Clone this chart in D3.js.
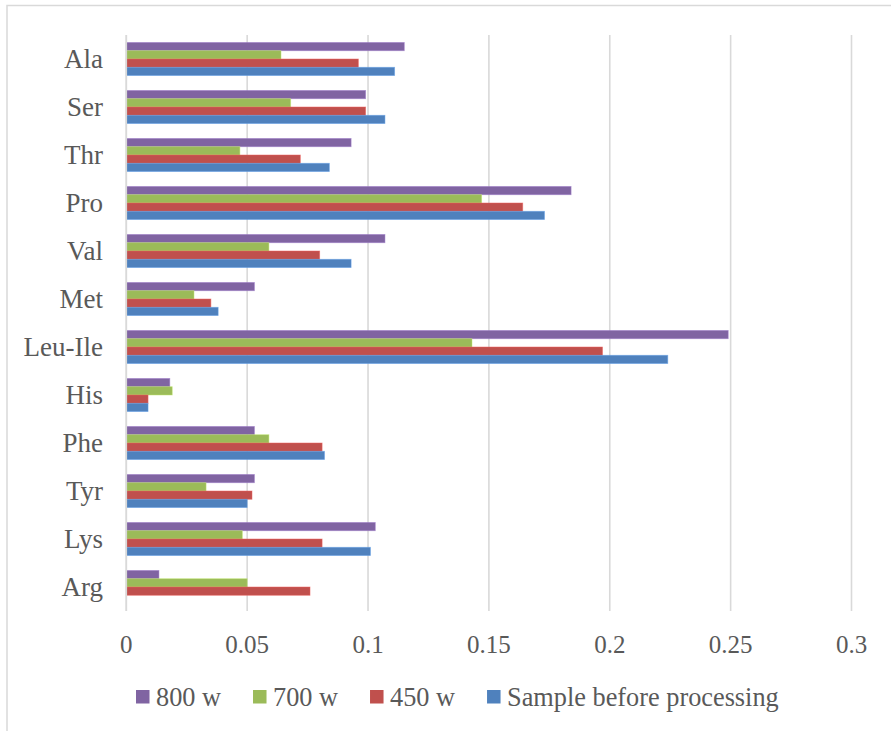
<!DOCTYPE html>
<html>
<head>
<meta charset="utf-8">
<script src="https://cdn.jsdelivr.net/npm/d3@7/dist/d3.min.js"></script>
<style>
  html, body { margin: 0; padding: 0; background: #fff; }
  svg { display: block; }
  text { font-family: "Liberation Serif", "Times New Roman", serif; fill: #595959; }
</style>
</head>
<body>
<svg id="chart" width="891" height="731"></svg>
<script>
// Amino acids, top to bottom
const categories = ["Ala", "Ser", "Thr", "Pro", "Val", "Met", "Leu-Ile", "His", "Phe", "Tyr", "Lys", "Arg"];

// Series, in the order drawn inside each group (top to bottom)
const seriesNames = ["800 w", "700 w", "450 w", "Sample before processing"];
const seriesColors = ["#8064A2", "#9BBB59", "#C0504D", "#4F81BD"];

const w800   = [0.115, 0.099, 0.093, 0.184, 0.107, 0.053, 0.249, 0.018, 0.053, 0.053, 0.103, 0.0135];
const w700   = [0.064, 0.068, 0.047, 0.147, 0.059, 0.028, 0.143, 0.019, 0.059, 0.033, 0.048, 0.050];
const w450   = [0.096, 0.099, 0.072, 0.164, 0.080, 0.035, 0.197, 0.009, 0.081, 0.052, 0.081, 0.076];
const sample = [0.111, 0.107, 0.084, 0.173, 0.093, 0.038, 0.224, 0.009, 0.082, 0.050, 0.101, 0];

const seriesValues = [w800, w700, w450, sample];
const xTicks = [0, 0.05, 0.1, 0.15, 0.2, 0.25, 0.3];
const xTickLabels = ["0", "0.05", "0.1", "0.15", "0.2", "0.25", "0.3"];

const svg = d3.select("#chart");

// Chart frame
svg.append("rect")
  .attr("x", 7).attr("y", 5.5)
  .attr("width", 920).attr("height", 760)
  .attr("fill", "none")
  .attr("stroke", "#d9d9d9")
  .attr("stroke-width", 1.5);

const plot = { left: 126.3, right: 851.5, top: 35, bottom: 611 };

const x = d3.scaleLinear().domain([0, 0.3]).range([plot.left, plot.right]);
const y = d3.scaleBand().domain(categories).range([plot.top, plot.bottom])
  .paddingInner(0.31).paddingOuter(0.155);
const ySub = d3.scaleBand().domain(seriesNames).range([0, y.bandwidth()]);

// Vertical gridlines
svg.append("g").selectAll("line")
  .data(xTicks)
  .join("line")
  .attr("x1", d => x(d)).attr("x2", d => x(d))
  .attr("y1", plot.top).attr("y2", plot.bottom)
  .attr("stroke", "#d9d9d9")
  .attr("stroke-width", 1.6);

// Bars
const groups = svg.append("g").selectAll("g")
  .data(categories)
  .join("g")
  .attr("transform", c => `translate(0,${y(c)})`);

groups.selectAll("rect")
  .data((c, i) => seriesNames.map((s, k) => ({ s, k, v: seriesValues[k][i] })))
  .join("rect")
  .attr("x", x(0))
  .attr("y", d => ySub(d.s))
  .attr("width", d => x(d.v) - x(0))
  .attr("height", ySub.bandwidth())
  .attr("fill", d => seriesColors[d.k])
  .attr("stroke", d => d3.color(seriesColors[d.k]).brighter(0.6))
  .attr("stroke-opacity", d => d.v > 0 ? 0.6 : 0)
  .attr("stroke-width", 0.8);

// Category axis line
svg.append("line")
  .attr("x1", x(0)).attr("x2", x(0))
  .attr("y1", plot.top).attr("y2", plot.bottom)
  .attr("stroke", "#d9d9d9")
  .attr("stroke-width", 1.6);

// Category labels
svg.append("g").selectAll("text")
  .data(categories)
  .join("text")
  .attr("x", 103)
  .attr("y", c => y(c) + y.bandwidth() / 2 + 8.5)
  .attr("text-anchor", "end")
  .style("font-size", "27px")
  .text(c => c);

// Value axis labels
svg.append("g").selectAll("text")
  .data(xTicks)
  .join("text")
  .attr("x", d => x(d))
  .attr("y", 653)
  .attr("text-anchor", "middle")
  .style("font-size", "25px")
  .text((d, i) => xTickLabels[i]);

// Legend
const legend = svg.append("g");
let lx = 136;
seriesNames.forEach((name, k) => {
  legend.append("rect")
    .attr("x", lx).attr("y", 690)
    .attr("width", 13.5).attr("height", 13.5)
    .attr("fill", seriesColors[k]);
  const t = legend.append("text")
    .attr("x", lx + 20)
    .attr("y", 705.5)
    .style("font-size", "26.3px")
    .text(name);
  lx += 20 + t.node().getComputedTextLength() + 32;
});
</script>
</body>
</html>
